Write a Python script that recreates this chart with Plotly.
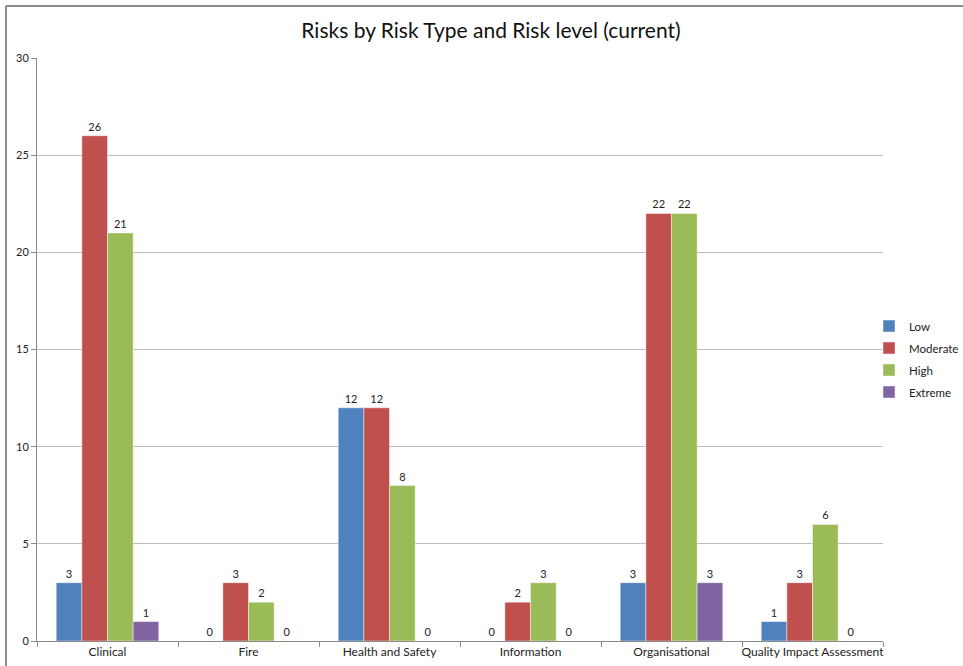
import plotly.graph_objects as go

# Risk register summary: count of risks per type, split by current risk level
risk_types = ["Clinical", "Fire", "Health and Safety", "Information",
              "Organisational", "Quality Impact Assessment"]
levels = ["Low", "Moderate", "High", "Extreme"]
low = [3, 0, 12, 0, 3, 1]
moderate = [26, 3, 12, 2, 22, 3]
high = [21, 2, 8, 3, 22, 6]
extreme = [1, 0, 0, 0, 3, 0]
y_ticks = [0, 5, 10, 15, 20, 25, 30]

colors = ["#4F81BD", "#C0504D", "#9BBB59", "#8064A2"]
series = [low, moderate, high, extreme]

FONT = "Lato, Open Sans, sans-serif"
W, H = 963, 666
L, R, T, B = 37, 80, 58, 25
pw, ph = W - L - R, H - T - B

fig = go.Figure()
for name, vals, col in zip(levels, series, colors):
    fig.add_trace(go.Bar(
        x=risk_types, y=vals, name=name, legendgroup=name,
        marker=dict(color=col, line=dict(color="rgba(255,255,255,0.55)", width=0.8)),
        text=[str(v) for v in vals], textposition="outside",
        textfont=dict(family=FONT, size=11, color="#222222"),
        cliponaxis=False,
    ))


def px_x(p):
    return (p - L) / pw


def px_y(p):
    return (H - B - p) / ph


fig.update_layout(
    width=W, height=H,
    margin=dict(l=L, r=R, t=T, b=B, autoexpand=False),
    paper_bgcolor="white", plot_bgcolor="white",
    barmode="group", bargap=0.2727, bargroupgap=0,
    font=dict(family=FONT, size=11, color="#222222"),
    title=dict(text="Risks by Risk Type and Risk level (current)",
               font=dict(family=FONT, size=21, color="#111111"),
               x=491 / W, xanchor="center", y=1 - 31 / H, yanchor="middle"),
    legend=dict(xref="container", yref="container",
                x=869 / W, y=1 - 359 / H, xanchor="left", yanchor="middle",
                font=dict(family=FONT, size=11.5, color="#222222"),
                tracegroupgap=3, traceorder="grouped",
                itemwidth=30, bgcolor="rgba(0,0,0,0)"),
    xaxis=dict(showgrid=False, showline=True, linecolor="#8a8a8a", linewidth=1,
               ticks="outside", tickson="boundaries", ticklen=5, tickcolor="#8a8a8a",
               tickangle=0, automargin=False,
               tickfont=dict(family=FONT, size=12, color="#222222"),
               fixedrange=True),
    yaxis=dict(range=[0, 30], tickvals=y_ticks, showgrid=True, gridcolor="#bdbdbd",
               gridwidth=1, showline=True, linecolor="#8a8a8a", linewidth=1,
               ticks="outside", ticklen=5, tickcolor="#8a8a8a", zeroline=False,
               automargin=False,
               tickfont=dict(family=FONT, size=11, color="#222222"),
               fixedrange=True),
    shapes=[
        # chart-area frame (left and top edges)
        dict(type="line", xref="paper", yref="paper",
             x0=px_x(6), x1=px_x(6), y0=px_y(H + 5), y1=px_y(6),
             line=dict(color="#8c8c8c", width=2)),
        dict(type="line", xref="paper", yref="paper",
             x0=px_x(6), x1=px_x(W + 5), y0=px_y(6), y1=px_y(6),
             line=dict(color="#8c8c8c", width=2)),
    ],
)

fig.write_html("out.html")
